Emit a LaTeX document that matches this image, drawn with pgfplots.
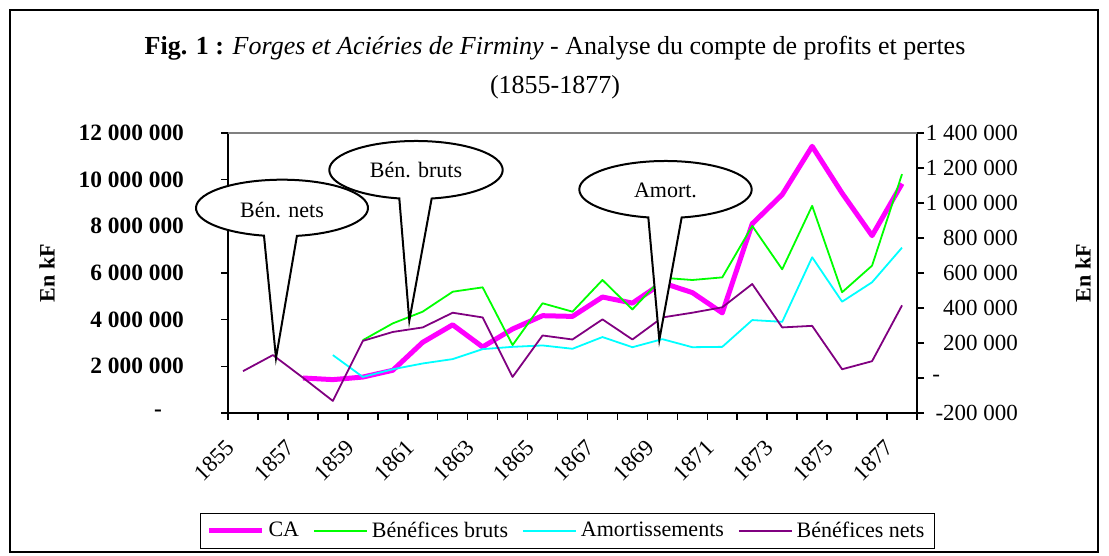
\documentclass[border=0pt]{standalone}
\usepackage{fontspec}
\setmainfont{Liberation Serif}
\usepackage{pgfplots}
\pgfplotsset{compat=1.18}
\definecolor{ca}{RGB}{255,0,255}
\definecolor{bb}{RGB}{0,255,0}
\definecolor{am}{RGB}{0,255,255}
\definecolor{bn}{RGB}{128,0,128}
\newcommand\fs{\fontsize{11}{13}\selectfont}
\newcommand\fx{\fontsize{11.5}{13.5}\selectfont}
\newcommand\fy{\fontsize{11.7}{14}\selectfont}
\newcommand\ft{\fontsize{13}{15.5}\selectfont}

\begin{document}
\begin{tikzpicture}
\path[use as bounding box] (0,0) rectangle (554.5pt,278pt);
\begin{scope}[shift={(0,278pt)},x=0.5pt,y=-0.5pt]
\draw[line width=0.6pt] (10,10) rectangle (1098,552);
\node[font=\ft] at (555,48) {\textbf{Fig. 1 :} \textit{Forges et Aciéries de Firminy} - Analyse du compte de profits et pertes};
\node[font=\ft] at (555,87) {(1855-1877)};
\node[font=\fs\bfseries, rotate=90] at (47,273) {En kF};
\node[font=\fs\bfseries, rotate=90] at (1083,273) {En kF};
\end{scope}

\begin{axis}[
  at={(114pt,71.5pt)}, anchor=south west,
  scale only axis, width=344.5pt, height=140pt,
  xmin=1854.5, xmax=1877.5,
  ymin=0, ymax=12000000,
  axis x line*=bottom, axis y line*=left,
  axis line style={-, line width=1pt, black},
  tick align=outside,
  major tick length=3.5pt,
  tick style={line width=0.8pt, black},
  xtick={1854.5,1855.5,...,1877.5},
  xticklabels={},
  extra x ticks={1855,1857,...,1877},
  extra x tick labels={1855,1857,1859,1861,1863,1865,1867,1869,1871,1873,1875,1877},
  extra x tick style={major tick length=0pt},
  xticklabel style={font=\fx, rotate=45, anchor=north east, xshift=-11.9pt, yshift=0.8pt},
  ytick={0,2000000,4000000,6000000,8000000,10000000,12000000},
  yticklabels={{-\hspace*{11pt}},{2 000 000},{4 000 000},{6 000 000},{8 000 000},{10 000 000},{12 000 000}},
  scaled y ticks=false,
  yticklabel style={font=\fy\bfseries, xshift=-15pt},
]
\addplot[ca, line width=2.5pt, line join=round] coordinates {
(1857,1500000) (1858,1430000) (1859,1540000) (1860,1830000) (1861,3030000)
(1862,3780000) (1863,2830000) (1864,3600000) (1865,4170000) (1866,4140000)
(1867,4970000) (1868,4710000) (1869,5580000) (1870,5160000) (1871,4290000)
(1872,8110000) (1873,9360000) (1874,11430000) (1875,9420000) (1876,7600000)
(1877,9830000)};
\end{axis}

\begin{axis}[
  at={(114pt,71.5pt)}, anchor=south west,
  scale only axis, width=344.5pt, height=140pt,
  xmin=1854.5, xmax=1877.5,
  ymin=-200000, ymax=1400000,
  axis x line=none, axis y line*=right,
  axis line style={-, line width=1pt, black},
  tick align=outside,
  major tick length=3.5pt,
  tick style={line width=0.8pt, black},
  ytick={-200000,0,200000,400000,600000,800000,1000000,1200000,1400000},
  yticklabels={{-200 000},{-\hspace*{39pt}},{200 000},{400 000},{600 000},{800 000},{1 000 000},{1 200 000},{1 400 000}},
  scaled y ticks=false,
  yticklabel style={font=\fx, anchor=east, xshift=50.5pt},
  legend style={at={(0.4927,-0.421)}, anchor=center, legend columns=4, draw=black, line width=0.6pt, font=\fs, inner xsep=3pt, inner ysep=2pt, /tikz/every even column/.append style={column sep=5pt}},
  legend image code/.code={\draw[#1] (0pt,0pt) -- (26.5pt,0pt);},
]
\draw[gray, line width=0.8pt] (rel axis cs:0,1) -- (rel axis cs:1,1);
\addlegendimage{ca, line width=2.5pt}
\addlegendentry{CA}
\addplot[bb, line width=0.9pt, line join=round] coordinates {
(1859,216000) (1860,312000) (1861,379000) (1862,493000) (1863,518000)
(1864,188000) (1865,427000) (1866,379000) (1867,560000) (1868,392000)
(1869,573000) (1870,560000) (1871,575000) (1872,869000) (1873,621000)
(1874,984000) (1875,490000) (1876,642000) (1877,1165000)};
\addlegendentry{Bénéfices bruts}
\addplot[am, line width=0.9pt, line join=round] coordinates {
(1858,131000) (1859,6000) (1860,50000) (1861,83000) (1862,108000)
(1863,165000) (1864,178000) (1865,186000) (1866,167000) (1867,234000)
(1868,176000) (1869,222000) (1870,176000) (1871,178000) (1872,331000)
(1873,321000) (1874,690000) (1875,436000) (1876,547000) (1877,745000)};
\addlegendentry{Amortissements}
\addplot[bn, line width=0.9pt, line join=round] coordinates {
(1855,39000) (1856,131000) (1857,2000) (1858,-131000) (1859,212000)
(1860,263000) (1861,289000) (1862,373000) (1863,346000) (1864,6000)
(1865,243000) (1866,220000) (1867,335000) (1868,220000) (1869,346000)
(1870,373000) (1871,404000) (1872,537000) (1873,289000) (1874,298000)
(1875,50000) (1876,96000) (1877,415000)};
\addlegendentry{Bénéfices nets}
\end{axis}

\begin{scope}[shift={(0,278pt)},x=0.5pt,y=-0.5pt]
\filldraw[fill=white, draw=black, line width=1pt]
  ([shift={(80:86 and 28.3)}]282,208) arc[start angle=80, end angle=-257.9, x radius=86, y radius=28.3] -- (276,358) -- cycle;
\node[font=\fs] at (282,210) {Bén. nets};
\filldraw[fill=white, draw=black, line width=1pt]
  ([shift={(79.6:86.7 and 29)}]416,170) arc[start angle=79.6, end angle=-258.9, x radius=86.7, y radius=29] -- (409.3,320.7) -- cycle;
\node[font=\fs] at (416,170) {Bén. bruts};
\filldraw[fill=white, draw=black, line width=1pt]
  ([shift={(79.2:86.2 and 28.5)}]665.5,189.5) arc[start angle=79.2, end angle=-258.5, x radius=86.2, y radius=28.5] -- (659.3,340) -- cycle;
\node[font=\fs] at (665.5,190.5) {Amort.};
\end{scope}
\end{tikzpicture}
\end{document}
